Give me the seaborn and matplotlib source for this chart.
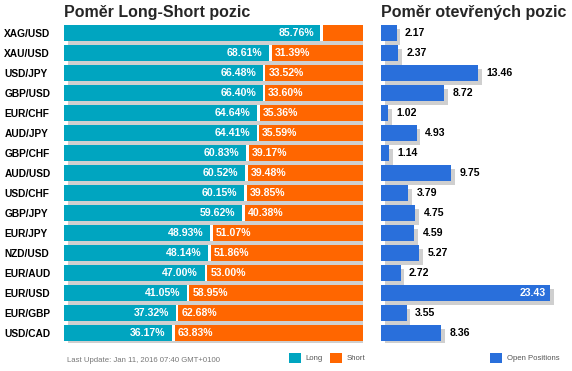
import numpy as np
import pandas as pd
import seaborn as sns
import matplotlib.pyplot as plt
import matplotlib.patheffects as pe
from matplotlib.patches import Rectangle

pairs = ['XAG/USD', 'XAU/USD', 'USD/JPY', 'GBP/USD', 'EUR/CHF', 'AUD/JPY', 'GBP/CHF', 'AUD/USD',
         'USD/CHF', 'GBP/JPY', 'EUR/JPY', 'NZD/USD', 'EUR/AUD', 'EUR/USD', 'EUR/GBP', 'USD/CAD']
long_pct = [85.76, 68.61, 66.48, 66.40, 64.64, 64.41, 60.83, 60.52,
            60.15, 59.62, 48.93, 48.14, 47.00, 41.05, 37.32, 36.17]
short_pct = [14.24, 31.39, 33.52, 33.60, 35.36, 35.59, 39.17, 39.48,
             39.85, 40.38, 51.07, 51.86, 53.00, 58.95, 62.68, 63.83]
open_pos = [2.17, 2.37, 13.46, 8.72, 1.02, 4.93, 1.14, 9.75,
            3.79, 4.75, 4.59, 5.27, 2.72, 23.43, 3.55, 8.36]

teal = '#00a5c0'
orange = '#ff6600'
blue = '#296fdb'
grey = '#cfcfcf'

sns.set_theme(style='white')
plt.rcParams['font.family'] = ['Liberation Sans', 'DejaVu Sans']

W, H = 572, 371
fig = plt.figure(figsize=(W / 100, H / 100), dpi=100)


def px_axes(x0, y0, x1, y1):
    return fig.add_axes([x0 / W, 1 - y1 / H, (x1 - x0) / W, (y1 - y0) / H])


def fig_text(x, y, s, **kw):
    fig.text(x / W, 1 - y / H, s, **kw)


def fig_box(x0, y0, x1, y1, c):
    fig.add_artist(Rectangle((x0 / W, 1 - y1 / H), (x1 - x0) / W, (y1 - y0) / H,
                             transform=fig.transFigure, color=c, lw=0))


df = pd.DataFrame({'pair': pairs, 'long': long_pct, 'short': short_pct, 'open': open_pos})
df['total'] = df['long'] + df['short']
gap = 0.9
df['short_w'] = df['short'] - gap

shadow = [pe.SimplePatchShadow(offset=(2.7, -2.9), shadow_rgbFace=grey, alpha=1), pe.Normal()]

# left panel: long / short ratio
ax1 = px_axes(64, 23, 363, 343)
sns.barplot(data=df, y='pair', x='total', color='white', saturation=1, width=0.8,
            linewidth=0, ax=ax1, path_effects=shadow)
sns.barplot(data=df, y='pair', x='long', color=teal, saturation=1, width=0.8,
            linewidth=0, ax=ax1)
sns.barplot(data=df, y='pair', x='short_w', left=(df['long'] + gap).to_numpy(), color=orange,
            saturation=1, width=0.8, linewidth=0, ax=ax1)

for i, row in df.iterrows():
    ax1.text(row['long'] - 2.2, i, f"{row['long']:.2f}%", ha='right', va='center',
             color='white', fontsize=7.6, fontweight='bold')
    if row['short'] >= 20:
        ax1.text(row['long'] + gap + 1.0, i, f"{row['short']:.2f}%", ha='left', va='center',
                 color='white', fontsize=7.6, fontweight='bold')

ax1.set_xlim(0, 100)
ax1.set_ylim(15.5, -0.5)
ax1.set_xlabel('')
ax1.set_ylabel('')
ax1.set_xticks([])
ax1.tick_params(axis='y', length=0, pad=43, labelsize=7.3)
for lbl in ax1.get_yticklabels():
    lbl.set_horizontalalignment('left')
    lbl.set_fontweight('bold')
    lbl.set_color('black')
sns.despine(ax=ax1, left=True, bottom=True)
ax1.set_title('Poměr Long-Short pozic', loc='left', fontsize=11.5, fontweight='bold', pad=4)

# right panel: open positions
ax2 = px_axes(381, 23, 572, 343)
sns.barplot(data=df, y='pair', x='open', color=blue, saturation=1, width=0.8,
            linewidth=0, ax=ax2, path_effects=shadow)
for i, row in df.iterrows():
    if row['open'] > 20:
        ax2.text(row['open'] - 0.6, i, f"{row['open']:.2f}", ha='right', va='center',
                 color='white', fontsize=7.6, fontweight='bold')
    else:
        ax2.text(row['open'] + 1.15, i, f"{row['open']:.2f}", ha='left', va='center',
                 color='black', fontsize=7.6, fontweight='bold')
ax2.set_xlim(0, 191 / 7.21)
ax2.set_ylim(15.5, -0.5)
ax2.set_xlabel('')
ax2.set_ylabel('')
ax2.set_xticks([])
ax2.set_yticks([])
sns.despine(ax=ax2, left=True, bottom=True)
ax2.set_title('Poměr otevřených pozic', loc='left', fontsize=11.5, fontweight='bold', pad=4)

# footer
fig_text(67, 360, 'Last Update: Jan 11, 2016 07:40 GMT+0100', fontsize=5.6, color='#777777', va='center')
fig_box(289, 353, 301, 363, teal)
fig_text(305, 358, 'Long', fontsize=5.6, color='#555555', va='center')
fig_box(330, 353, 342, 363, orange)
fig_text(347, 358, 'Short', fontsize=5.6, color='#555555', va='center')
fig_box(490, 353, 502, 363, blue)
fig_text(507, 358, 'Open Positions', fontsize=5.6, color='#555555', va='center')

fig.savefig('out.png', dpi=100)
